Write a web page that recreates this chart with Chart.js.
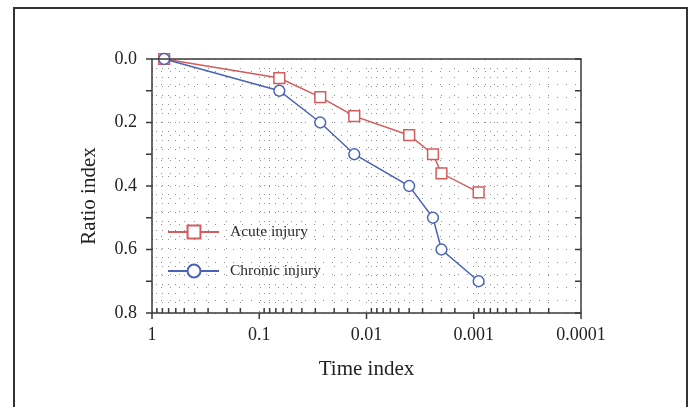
<!DOCTYPE html>
<html>
<head>
<meta charset="utf-8">
<script src="https://cdn.jsdelivr.net/npm/chart.js@4.4.1/dist/chart.umd.min.js"></script>
<style>
  html, body { margin: 0; padding: 0; background: #fff; }
  #wrap { position: relative; width: 694px; height: 407px; overflow: hidden; }
  #frame { position: absolute; left: 13px; top: 7px; width: 675px; height: 430px; border: 2px solid #333; box-sizing: border-box; }
  #chart { position: absolute; left: 0; top: 0; }
</style>
</head>
<body>
<div id="wrap">
  <div id="frame"></div>
  <canvas id="chart" width="694" height="407"></canvas>
</div>
<script>
const timeIndex = [0.77, 0.065, 0.027, 0.013, 0.004, 0.0024, 0.002, 0.0009];
const acuteInjury = [0, 0.06, 0.12, 0.18, 0.24, 0.30, 0.36, 0.42];
const chronicInjury = [0, 0.10, 0.20, 0.30, 0.40, 0.50, 0.60, 0.70];
const xTickLabels = ['1', '0.1', '0.01', '0.001', '0.0001'];
const yTickLabels = ['0.0', '0.2', '0.4', '0.6', '0.8'];
const seriesNames = ['Acute injury', 'Chronic injury'];
const xTitle = 'Time index';
const yTitle = 'Ratio index';

const RED = '#d35c5c';
const BLUE = '#4a63b9';
const AXIS = '#3a3a3a';
const DOTS = '#909090';
const FONT = '"Liberation Serif", "Times New Roman", serif';

const toPoints = (ys) => ys.map((y, i) => ({ x: timeIndex[i], y: y }));

const isDecade = (v) => Math.abs(Math.log10(v) - Math.round(Math.log10(v))) < 1e-6;

// box round the plot, tick marks, y title and the legend inside the plot
const frameAndLegend = {
    id: 'frameAndLegend',
    afterDraw(chart) {
        const ctx = chart.ctx;
        const area = chart.chartArea;
        const xs = chart.scales.x;
        const ys = chart.scales.y;

        ctx.save();
        ctx.strokeStyle = AXIS;
        ctx.lineWidth = 1.5;
        ctx.strokeRect(area.left, area.top, area.right - area.left, area.bottom - area.top);

        ctx.beginPath();
        for (const t of ys.ticks) {
            const py = ys.getPixelForValue(t.value);
            ctx.moveTo(area.left - 6, py);
            ctx.lineTo(area.left, py);
            ctx.moveTo(area.right - 6, py);
            ctx.lineTo(area.right, py);
        }
        for (const t of xs.ticks) {
            const px = xs.getPixelForValue(t.value);
            if (isDecade(t.value)) {
                ctx.moveTo(px, area.bottom);
                ctx.lineTo(px, area.bottom + 6);
            } else {
                ctx.moveTo(px, area.bottom);
                ctx.lineTo(px, area.bottom - 5);
            }
        }
        ctx.stroke();

        // y title, a bit below the middle like the original
        ctx.save();
        ctx.translate(89, 196);
        ctx.rotate(-Math.PI / 2);
        ctx.fillStyle = '#222';
        ctx.font = '21px ' + FONT;
        ctx.textAlign = 'center';
        ctx.textBaseline = 'middle';
        ctx.fillText(yTitle, 0, 0);
        ctx.restore();

        // legend
        const rows = [232, 271];
        chart.data.datasets.forEach((ds, i) => {
            const y = rows[i];
            ctx.strokeStyle = ds.borderColor;
            ctx.lineWidth = 2;
            ctx.beginPath();
            ctx.moveTo(168, y);
            ctx.lineTo(219, y);
            ctx.stroke();
            ctx.fillStyle = '#fff';
            ctx.lineWidth = 2;
            Chart.helpers.drawPoint(ctx, {
                pointStyle: ds.pointStyle,
                radius: ds.pointRadius * 1.2,
                borderWidth: 2,
                rotation: 0
            }, 194, y);
            ctx.fillStyle = '#2a2a2a';
            ctx.font = '15.5px ' + FONT;
            ctx.textBaseline = 'middle';
            ctx.textAlign = 'left';
            ctx.fillText(ds.label, 230, y);
        });
        ctx.restore();
    }
};

Chart.defaults.font.family = FONT;
Chart.defaults.color = '#222';

new Chart(document.getElementById('chart'), {
    type: 'line',
    data: {
        datasets: [{
            label: seriesNames[0],
            data: toPoints(acuteInjury),
            order: 1,
            borderColor: RED,
            borderWidth: 1.5,
            pointStyle: 'rect',
            pointRadius: 7.6,
            pointBorderWidth: 1.5,
            pointBackgroundColor: '#fff',
            pointBorderColor: RED,
            clip: false
        }, {
            label: seriesNames[1],
            data: toPoints(chronicInjury),
            order: 0,
            borderColor: BLUE,
            borderWidth: 1.5,
            pointStyle: 'circle',
            pointRadius: 5.4,
            pointBorderWidth: 1.5,
            pointBackgroundColor: '#fff',
            pointBorderColor: BLUE,
            clip: false
        }]
    },
    options: {
        responsive: false,
        animation: false,
        layout: { padding: { left: 0, top: 59, right: 113, bottom: 0 } },
        plugins: {
            legend: { display: false },
            tooltip: { enabled: false }
        },
        scales: {
            x: {
                type: 'logarithmic',
                reverse: true,
                min: 0.0001,
                max: 1,
                border: { display: false, dash: [1, 8] },
                grid: { color: DOTS, lineWidth: 1, drawTicks: false },
                ticks: {
                    autoSkip: false,
                    maxRotation: 0,
                    padding: 11,
                    font: { size: 18 },
                    callback: (v) => isDecade(v) ? xTickLabels[Math.round(-Math.log10(v))] : ''
                },
                title: {
                    display: true,
                    text: xTitle,
                    font: { size: 21 },
                    padding: { top: 0, bottom: 25 }
                },
                afterFit: (s) => { s.height = 94; s.paddingLeft = 0; s.paddingRight = 0; }
            },
            y: {
                type: 'linear',
                reverse: true,
                min: 0,
                max: 0.8,
                border: { display: false },
                grid: { display: false, drawTicks: false },
                ticks: {
                    stepSize: 0.1,
                    padding: 15,
                    font: { size: 18 },
                    callback: (v) => {
                        const i = Math.round(v * 10);
                        return i % 2 === 0 ? yTickLabels[i / 2] : '';
                    }
                },
                afterFit: (s) => { s.width = 152; s.paddingTop = 0; s.paddingBottom = 0; }
            },
            yg: {
                type: 'linear',
                position: 'right',
                reverse: true,
                min: 0,
                max: 0.8,
                border: { display: false, dash: [1, 8] },
                grid: { color: DOTS, lineWidth: 1, drawTicks: false },
                ticks: { display: false, stepSize: 0.04 },
                afterFit: (s) => { s.width = 0; s.paddingTop = 0; s.paddingBottom = 0; }
            }
        }
    },
    plugins: [frameAndLegend]
});
</script>
</body>
</html>
